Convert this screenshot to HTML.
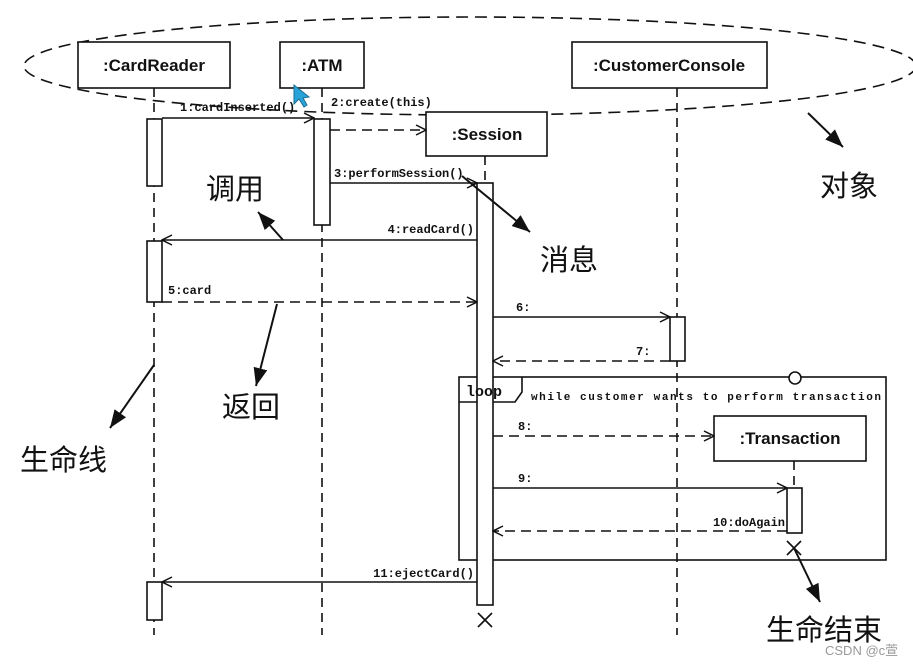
<!DOCTYPE html>
<html><head><meta charset="utf-8"><style>
html,body{margin:0;padding:0;background:#fff;}
svg{display:block;}
.m{font-family:"Liberation Mono","DejaVu Sans Mono",monospace;font-size:12px;font-weight:bold;fill:#111;}
.b{font-family:"Liberation Sans",sans-serif;font-size:17px;font-weight:bold;fill:#111;}
.c{font-family:"Liberation Sans","Noto Sans CJK SC",sans-serif;font-size:29px;fill:#111;}
</style></head><body>
<svg width="913" height="666" viewBox="0 0 913 666" xmlns="http://www.w3.org/2000/svg">
<defs>
<marker id="o" markerWidth="12" markerHeight="12" refX="11" refY="6" orient="auto" markerUnits="userSpaceOnUse"><path d="M1,1 L11,6 L1,11" fill="none" stroke="#111" stroke-width="1.5"/></marker>
<marker id="f" markerWidth="20" markerHeight="16" refX="18" refY="8" orient="auto" markerUnits="userSpaceOnUse"><path d="M0,1 L18,8 L0,15 Z" fill="#111"/></marker>
</defs>
<g stroke="#111" stroke-width="1.6" fill="none">
<ellipse cx="470" cy="66" rx="446" ry="49" stroke-dasharray="12,7"/>
<g stroke-dasharray="9,6">
<line x1="154" y1="88" x2="154" y2="635"/>
<line x1="322" y1="88" x2="322" y2="635"/>
<line x1="677" y1="88" x2="677" y2="635"/>
<line x1="485" y1="156" x2="485" y2="183"/>
<line x1="794" y1="461" x2="794" y2="488"/>
</g>
<rect x="78" y="42" width="152" height="46" fill="#fff"/>
<rect x="280" y="42" width="84" height="46" fill="#fff"/>
<rect x="572" y="42" width="195" height="46" fill="#fff"/>
<rect x="426" y="112" width="121" height="44" fill="#fff"/>
<rect x="714" y="416" width="152" height="45" fill="#fff"/>
<rect x="459" y="377" width="427" height="183"/>
<path d="M459,402 L515,402 L522,392 L522,377"/>
<circle cx="795" cy="378" r="6" fill="#fff"/>
<rect x="147" y="119" width="15" height="67" fill="#fff"/>
<rect x="147" y="241" width="15" height="61" fill="#fff"/>
<rect x="147" y="582" width="15" height="38" fill="#fff"/>
<rect x="314" y="119" width="16" height="106" fill="#fff"/>
<rect x="477" y="183" width="16" height="422" fill="#fff"/>
<rect x="670" y="317" width="15" height="44" fill="#fff"/>
<rect x="787" y="488" width="15" height="45" fill="#fff"/>
<path d="M478,613 L492,627 M492,613 L478,627"/>
<path d="M787,541 L801,555 M801,541 L787,555"/>
<line x1="162" y1="118" x2="314" y2="118" marker-end="url(#o)"/>
<line x1="330" y1="130" x2="426" y2="130" stroke-dasharray="10,6" marker-end="url(#o)"/>
<line x1="330" y1="183" x2="477" y2="183" marker-end="url(#o)"/>
<line x1="477" y1="240" x2="162" y2="240" marker-end="url(#o)"/>
<line x1="162" y1="302" x2="477" y2="302" stroke-dasharray="10,6" marker-end="url(#o)"/>
<line x1="493" y1="317" x2="670" y2="317" marker-end="url(#o)"/>
<line x1="670" y1="361" x2="493" y2="361" stroke-dasharray="10,6" marker-end="url(#o)"/>
<line x1="493" y1="436" x2="714" y2="436" stroke-dasharray="10,6" marker-end="url(#o)"/>
<line x1="493" y1="488" x2="787" y2="488" marker-end="url(#o)"/>
<line x1="787" y1="531" x2="493" y2="531" stroke-dasharray="10,6" marker-end="url(#o)"/>
<line x1="477" y1="582" x2="162" y2="582" marker-end="url(#o)"/>
</g>
<g stroke="#111" stroke-width="2">
<line x1="283" y1="240" x2="258" y2="212" marker-end="url(#f)"/>
<line x1="462" y1="176" x2="530" y2="232" marker-end="url(#f)"/>
<line x1="808" y1="113" x2="843" y2="147" marker-end="url(#f)"/>
<line x1="277" y1="304" x2="256" y2="386" marker-end="url(#f)"/>
<line x1="154" y1="365" x2="110" y2="428" marker-end="url(#f)"/>
<line x1="794" y1="548" x2="820" y2="602" marker-end="url(#f)"/>
</g>
<text class="b" x="154" y="71" text-anchor="middle">:CardReader</text>
<text class="b" x="322" y="71" text-anchor="middle">:ATM</text>
<text class="b" x="669" y="71" text-anchor="middle">:CustomerConsole</text>
<text class="b" x="487" y="140" text-anchor="middle">:Session</text>
<text class="b" x="790" y="444" text-anchor="middle">:Transaction</text>
<text class="m" x="466" y="396" style="font-size:15px">loop</text>
<text class="m" x="531" y="400" style="font-size:11px" textLength="350" lengthAdjust="spacing">while customer wants to perform transaction</text>
<text class="m" x="180" y="111">1:cardInserted()</text>
<text class="m" x="331" y="106">2:create(this)</text>
<text class="m" x="334" y="177">3:performSession()</text>
<text class="m" x="474" y="233" text-anchor="end">4:readCard()</text>
<text class="m" x="168" y="294">5:card</text>
<text class="m" x="516" y="311">6:</text>
<text class="m" x="636" y="355">7:</text>
<text class="m" x="518" y="430">8:</text>
<text class="m" x="518" y="482">9:</text>
<text class="m" x="785" y="526" text-anchor="end">10:doAgain</text>
<text class="m" x="474" y="577" text-anchor="end">11:ejectCard()</text>
<text class="c" x="206" y="199">调用</text>
<text class="c" x="540" y="270">消息</text>
<text class="c" x="820" y="196">对象</text>
<text class="c" x="222" y="417">返回</text>
<text class="c" x="20" y="470">生命线</text>
<text class="c" x="766" y="640">生命结束</text>
<text x="825" y="655" style="font-family:'Liberation Sans','Noto Sans CJK SC',sans-serif;font-size:13px;fill:#999">CSDN @c萱</text>
<path d="M294,85 L294,104 L299,99 L304,107 L307,105 L303,98 L309,97 Z" fill="#2aa3d8" stroke="#1a6d94" stroke-width="1"/>
</svg>
</body></html>
